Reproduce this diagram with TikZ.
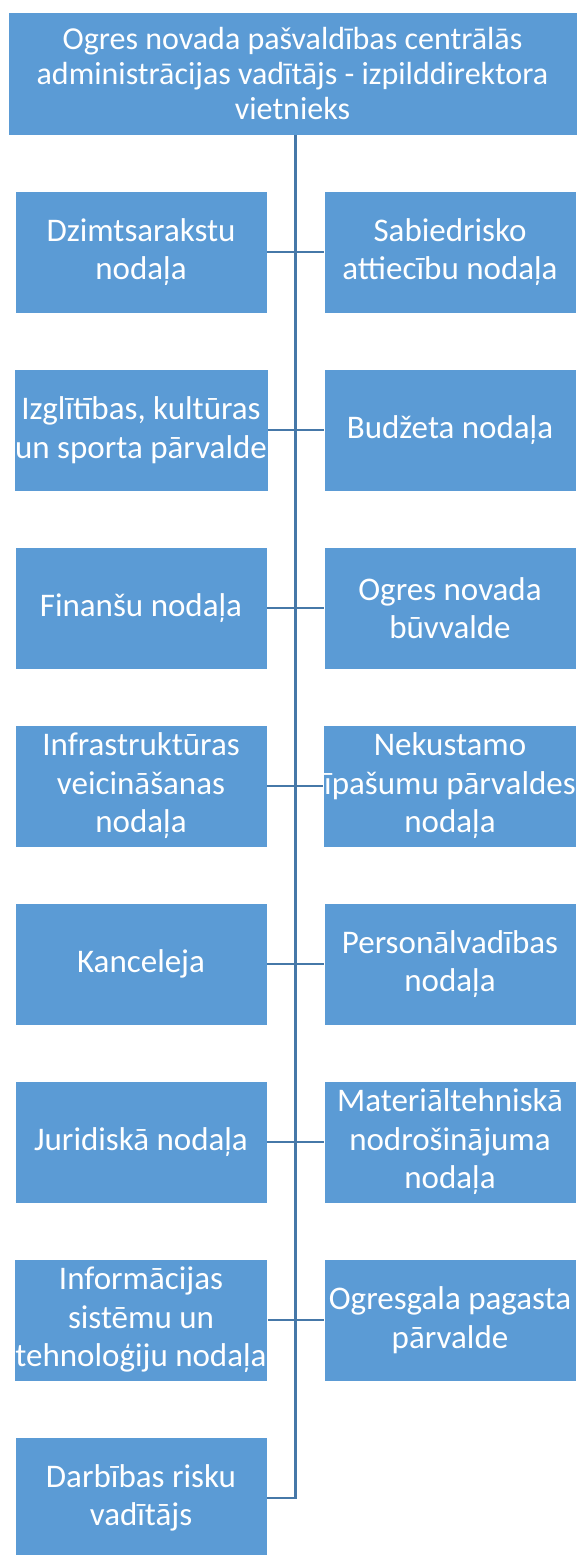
\documentclass[tikz,border=0pt]{standalone}
\usepackage{fontspec}
\setmainfont{Carlito}
\usepackage{xcolor}
\definecolor{boxblue}{RGB}{91,155,213}
\definecolor{linkblue}{RGB}{70,120,168}
\usetikzlibrary{positioning}

\begin{document}
\begin{tikzpicture}[x=1pt, y=-1pt, node distance=178pt,
    unit/.style={rectangle, fill=boxblue, draw=white, line width=0.6pt, text=white, minimum width=252pt, minimum height=122pt, align=center, inner sep=1pt, font=\fontsize{33}{38.5}\selectfont},
    head/.style={unit, minimum width=569pt, minimum height=123pt, font=\fontsize{32}{35}\selectfont},
    line/.style={draw=linkblue, line width=2.6pt}]
    \useasboundingbox (0,0) rectangle (577,1555);

    % Head
    \node [head] (top) at (292.5,73.5) {Ogres novada pašvaldības centrālās\\administrācijas vadītājs - izpilddirektora\\vietnieks};

    % Left column
    \node [unit] (dzimt) at (141,252) {Dzimtsarakstu\\nodaļa};
    \node [unit, below of=dzimt] (izgl) {Izglītības, kultūras\\un sporta pārvalde};
    \node [unit, below of=izgl] (fin) {Finanšu nodaļa};
    \node [unit, below of=fin] (infra) {Infrastruktūras\\veicināšanas\\nodaļa};
    \node [unit, below of=infra] (kanc) {Kanceleja};
    \node [unit, below of=kanc] (jur) {Juridiskā nodaļa};
    \node [unit, below of=jur] (infs) {Informācijas\\sistēmu un\\tehnoloģiju nodaļa};
    \node [unit, below of=infs] (risk) {Darbības risku\\vadītājs};

    % Right column
    \node [unit, right of=dzimt, xshift=131pt] (sabied) {Sabiedrisko\\attiecību nodaļa};
    \node [unit, below of=sabied] (budz) {Budžeta nodaļa};
    \node [unit, below of=budz] (buvv) {Ogres novada\\būvvalde};
    \node [unit, below of=buvv] (nek) {Nekustamo\\īpašumu pārvaldes\\nodaļa};
    \node [unit, below of=nek] (pers) {Personālvadības\\nodaļa};
    \node [unit, below of=pers] (mat) {Materiāltehniskā\\nodrošinājuma\\nodaļa};
    \node [unit, below of=mat] (ogr) {Ogresgala pagasta\\pārvalde};

    % Trunk
    \coordinate (trunkend) at (295.5,1498);
    \path [line] (top.south -| trunkend) -- (trunkend) -- (risk.east);

    % Connections
    \path [line] (dzimt) -- (sabied);
    \path [line] (izgl) -- (budz);
    \path [line] (fin) -- (buvv);
    \path [line] (infra) -- (nek);
    \path [line] (kanc) -- (pers);
    \path [line] (jur) -- (mat);
    \path [line] (infs) -- (ogr);
\end{tikzpicture}
\end{document}
